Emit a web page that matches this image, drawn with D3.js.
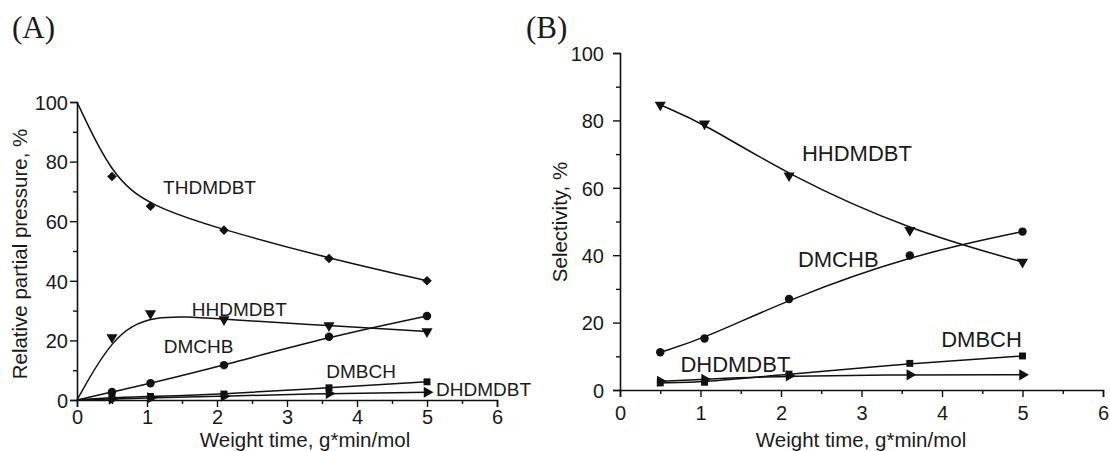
<!DOCTYPE html>
<html>
<head>
<meta charset="utf-8">
<script src="https://cdn.jsdelivr.net/npm/d3@7"></script>
<style>
  body { margin: 0; background: #fff; }
  svg { display: block; }
  text { font-family: "Liberation Sans", Arial, sans-serif; fill: #1a1a1a; }
  .panel-tag { font-family: "Liberation Serif", "Times New Roman", serif; font-size: 31px; }
  .tick-label { font-size: 20px; }
  .axis-title { font-size: 20.5px; }
</style>
</head>
<body>
<div id="chart"></div>
<script>
// weight time values (g*min/mol)
const timesA = [0, 0.5, 1.05, 2.1, 3.6, 5];
const timesB = [0.5, 1.05, 2.1, 3.6, 5];

// (A) relative partial pressure, %
const thdmdbtA = [100, 75, 65, 57, 47.5, 40];
const hhdmdbtA = [0, 21, 29, 27, 25, 23];
const dmchbA = [0, 2.7, 5.6, 11.7, 21.2, 28.2];
const dmbchA = [0, 0.8, 1.2, 2, 4.1, 6.1];
const dhdmdbtA = [0, 0.3, 0.7, 1.3, 2.2, 2.6];

// (B) selectivity, %
const hhdmdbtB = [84.6, 79, 63.6, 47.4, 38];
const dmchbB = [11.2, 15.3, 27, 39.9, 47];
const dmbchB = [2.1, 2.3, 4.7, 7.9, 10.1];
const dhdmdbtB = [2.6, 3.2, 4.2, 4.5, 4.5];

const xTicks = [0, 1, 2, 3, 4, 5, 6];
const yTicks = [0, 20, 40, 60, 80, 100];

// label anchors in data units
const labelsA = [
	{name: 'THDMDBT', x: 1.23, y: 69},
	{name: 'HHDMDBT', x: 1.64, y: 28.2},
	{name: 'DMCHB', x: 1.24, y: 15.8},
	{name: 'DMBCH', x: 3.56, y: 7.4},
	{name: 'DHDMDBT', x: 5.13, y: 1.3}
];
const labelsB = [
	{name: 'HHDMDBT', x: 2.26, y: 68},
	{name: 'DMCHB', x: 2.21, y: 36.5},
	{name: 'DHDMDBT', x: 0.75, y: 5.3},
	{name: 'DMBCH', x: 3.99, y: 12.8}
];

const seriesA = [
	{values: thdmdbtA, marker: 'diamond'},
	{values: hhdmdbtA, marker: 'tri-down'},
	{values: dmchbA, marker: 'circle'},
	{values: dmbchA, marker: 'square'},
	{values: dhdmdbtA, marker: 'tri-right'}
];
const seriesB = [
	{values: hhdmdbtB, marker: 'tri-down'},
	{values: dmchbB, marker: 'circle'},
	{values: dmbchB, marker: 'square'},
	{values: dhdmdbtB, marker: 'tri-right'}
];

const width = 1110, height = 451;
const ink = '#111';

const svg = d3.select('#chart').append('svg')
	.attr('width', width)
	.attr('height', height);

function markerPath(type) {
	if (type === 'circle') return {d: d3.symbol().type(d3.symbolCircle).size(56)(), rot: 0};
	if (type === 'square') return {d: d3.symbol().type(d3.symbolSquare).size(48)(), rot: 0};
	if (type === 'diamond') return {d: d3.symbol().type(d3.symbolSquare).size(46)(), rot: 45};
	if (type === 'tri-down') return {d: d3.symbol().type(d3.symbolTriangle).size(54)(), rot: 180};
	return {d: d3.symbol().type(d3.symbolTriangle).size(54)(), rot: 90};
}

function drawPanel(opt) {
	const x = d3.scaleLinear().domain([0, 6]).range(opt.xRange);
	const y = d3.scaleLinear().domain([0, 100]).range(opt.yRange);
	const g = svg.append('g');

	// axes
	const xAxis = g.append('g')
		.attr('transform', `translate(0,${opt.yRange[0]})`)
		.call(d3.axisBottom(x).tickValues(xTicks).tickSize(7).tickFormat(d3.format('d')));
	const xMinor = g.append('g')
		.attr('transform', `translate(0,${opt.yRange[0]})`)
		.call(d3.axisBottom(x).tickValues(d3.range(0.5, 6, 1)).tickSize(4).tickFormat(''));
	const yAxis = g.append('g')
		.attr('transform', `translate(${opt.xRange[0]},0)`)
		.call(d3.axisLeft(y).tickValues(yTicks).tickSize(7));
	const yMinor = g.append('g')
		.attr('transform', `translate(${opt.xRange[0]},0)`)
		.call(d3.axisLeft(y).tickValues(d3.range(10, 100, 20)).tickSize(4).tickFormat(''));

	[xAxis, xMinor, yAxis, yMinor].forEach(a => {
		a.attr('font-size', null).attr('font-family', null);
		a.select('.domain').attr('stroke', ink).attr('stroke-width', 1.6);
		a.selectAll('.tick line').attr('stroke', ink).attr('stroke-width', 1.4);
	});
	xMinor.select('.domain').remove();
	yMinor.select('.domain').remove();

	xAxis.selectAll('.tick text')
		.attr('class', 'tick-label')
		.attr('fill', '#1a1a1a')
		.attr('y', opt.xLabelBase)
		.attr('dy', 0);
	yAxis.selectAll('.tick text')
		.attr('class', 'tick-label')
		.attr('fill', '#1a1a1a')
		.attr('x', -opt.yLabelGap)
		.attr('dy', '0.36em');

	// axis titles
	g.append('text')
		.attr('class', 'axis-title')
		.attr('text-anchor', 'middle')
		.attr('x', opt.xTitle[0])
		.attr('y', opt.xTitle[1])
		.text('Weight time, g*min/mol');
	g.append('text')
		.attr('class', 'axis-title')
		.attr('text-anchor', 'middle')
		.attr('font-size', opt.yTitleSize)
		.attr('transform', `translate(${opt.yTitle[0]},${opt.yTitle[1]}) rotate(-90)`)
		.text(opt.yTitleText);

	// panel tag
	g.append('text')
		.attr('class', 'panel-tag')
		.attr('x', opt.tag[0])
		.attr('y', opt.tag[1])
		.text(opt.tagText);

	// fitted curves
	const line = d3.line()
		.x(d => x(d[0]))
		.y(d => y(d[1]))
		.curve(d3.curveBasis);

	opt.series.forEach(s => {
		const pts = opt.times.map((t, i) => [t, s.values[i]]);
		g.append('path')
			.attr('d', line(pts))
			.attr('fill', 'none')
			.attr('stroke', ink)
			.attr('stroke-width', 1.5);

		const m = markerPath(s.marker);
		g.append('g')
			.selectAll('path')
			.data(pts.filter(p => p[0] > 0))
			.enter().append('path')
				.attr('d', m.d)
				.attr('fill', ink)
				.attr('transform', d => `translate(${x(d[0])},${y(d[1])}) rotate(${m.rot})`);
	});

	// series labels
	g.append('g')
		.selectAll('text')
		.data(opt.labels)
		.enter().append('text')
			.attr('x', d => x(d.x))
			.attr('y', d => y(d.y))
			.attr('font-size', opt.labelSize)
			.text(d => d.name);
}

drawPanel({
	xRange: [77, 497],
	yRange: [400, 102],
	times: timesA,
	series: seriesA,
	labels: labelsA,
	labelSize: 19,
	xLabelBase: 23.5,
	yLabelGap: 9,
	xTitle: [305, 446.5],
	yTitle: [27, 254],
	yTitleSize: 23.5,
	yTitleText: 'Relative partial pressure, %',
	tag: [12, 38],
	tagText: '(A)'
});

drawPanel({
	xRange: [620, 1103],
	yRange: [390, 53],
	times: timesB,
	series: seriesB,
	labels: labelsB,
	labelSize: 22,
	xLabelBase: 30,
	yLabelGap: 16,
	xTitle: [861, 446.5],
	yTitle: [567, 222],
	yTitleSize: 22,
	yTitleText: 'Selectivity, %',
	tag: [526, 38],
	tagText: '(B)'
});
</script>
</body>
</html>
